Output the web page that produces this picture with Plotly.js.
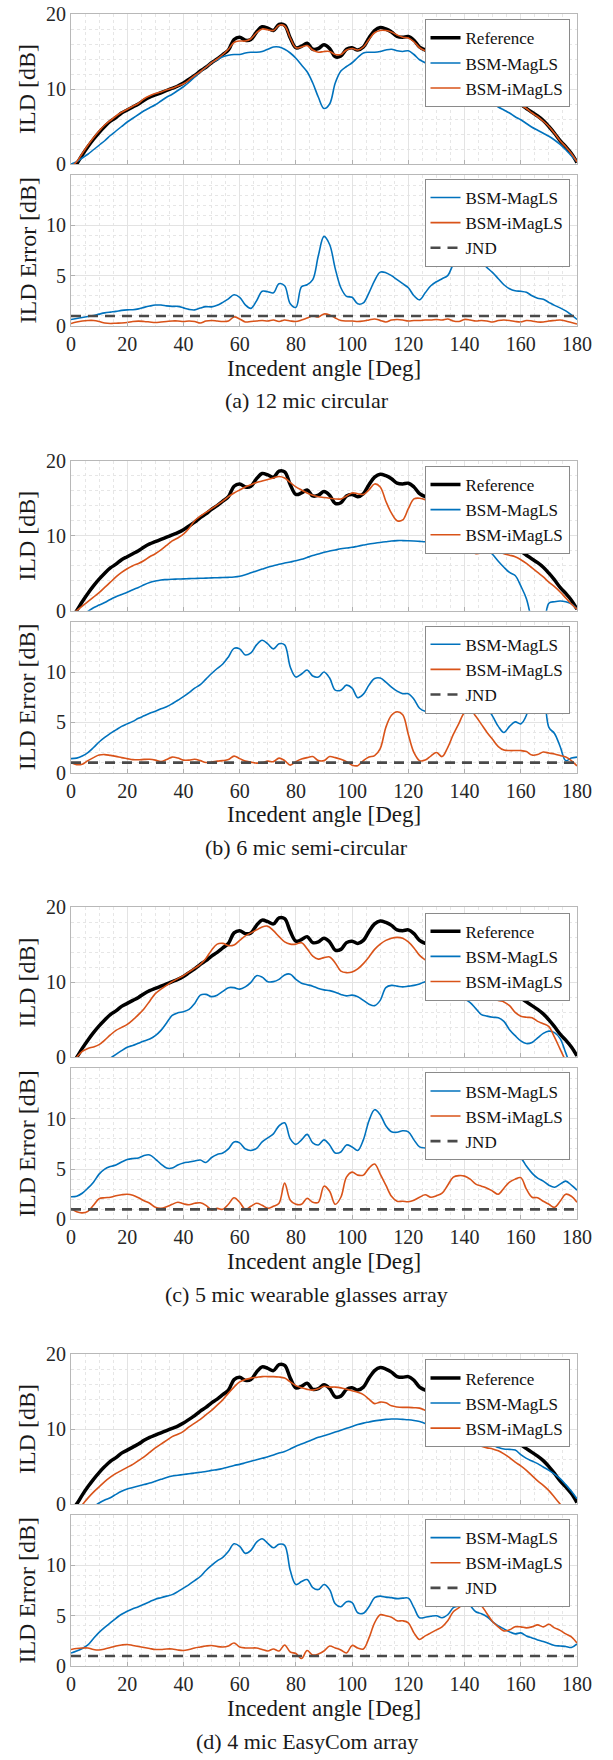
<!DOCTYPE html>
<html>
<head>
<meta charset="utf-8">
<script src="https://cdn.plot.ly/plotly-3.0.1.min.js"></script>
<style>
html,body{margin:0;padding:0;background:#fff;}
#chart{width:613px;height:1760px;}
</style>
</head>
<body>
<div id="chart"></div>
<script>
// ---------------- DATA ----------------
const angles = [0,2,4,6,8,10,12,14,16,18,20,22,24,26,28,30,32,34,36,38,40,42,44,46,48,50,52,54,56,58,
60,62,64,66,68,70,72,74,76,78,80,82,84,86,88,90,92,94,96,98,100,102,104,106,108,110,112,114,116,118,
120,122,124,126,128,130,132,134,136,138,140,142,144,146,148,150,152,154,156,158,160,162,164,166,168,170,172,174,176,178,180];
const jndX = [0, 180];
const jndY = [1, 1];

const refILD = [
-0.9,0.0,1.2,2.3,3.3,4.2,5.0,5.7,6.2,6.8,
7.2,7.6,8.0,8.5,8.9,9.2,9.5,9.8,10.1,10.4,
10.8,11.3,11.8,12.4,12.9,13.5,14.0,14.6,15.2,16.6,
16.9,16.5,16.6,17.6,18.3,18.1,17.8,18.6,18.5,16.8,
15.5,15.7,16.1,15.3,15.4,15.9,15.4,14.3,14.4,15.3,
15.5,15.2,15.6,16.8,17.8,18.2,18.0,17.6,17.0,16.9,
17.0,16.5,15.6,15.2,15.0,14.8,14.6,14.3,14.0,13.6,
13.1,12.6,12.0,11.3,10.6,10.0,9.4,8.9,8.4,8.15,
7.9,7.4,6.9,6.4,5.8,5.0,4.1,3.1,2.3,1.4,
0.2];

// (a) 12 mic circular
const magA = [
0.0,0.3,0.8,1.3,1.9,2.5,3.1,3.8,4.4,5.0,
5.6,6.1,6.6,7.1,7.5,7.9,8.4,8.9,9.3,9.8,
10.3,10.9,11.6,12.3,12.9,13.5,13.9,14.3,14.5,14.6,
14.6,14.8,14.9,14.9,15.0,15.3,15.6,15.6,15.3,14.8,
14.1,13.2,12.3,10.8,8.9,7.4,8.0,10.8,12.4,13.0,
13.5,14.2,14.8,14.9,14.9,15.0,15.2,15.3,15.1,15.0,
15.1,14.6,13.9,13.5,13.0,12.5,12.0,11.5,11.0,10.5,
10.0,9.6,9.2,8.8,8.5,8.1,7.6,7.2,6.8,6.3,
5.9,5.4,4.9,4.5,4.1,3.7,3.2,2.6,1.9,1.1,
0.3];
const imagA = [
-0.4,0.3,1.4,2.5,3.5,4.4,5.2,5.8,6.4,6.9,
7.3,7.7,8.1,8.7,9.1,9.4,9.6,9.9,10.1,10.4,
10.7,11.2,11.8,12.3,12.9,13.5,14.0,14.6,15.3,16.2,
16.4,16.4,16.7,17.5,18.0,17.9,17.8,18.5,18.4,16.8,
15.5,15.6,15.8,15.2,14.9,15.0,15.0,14.6,14.6,15.2,
15.4,15.2,15.6,16.6,17.5,17.8,17.8,17.6,17.2,16.9,
16.8,16.3,15.5,15.1,14.9,14.7,14.5,14.2,13.9,13.5,
13.0,12.5,11.9,11.2,10.5,9.9,9.3,8.8,8.4,8.1,
7.8,7.4,6.8,6.3,5.7,5.0,4.1,3.1,2.3,1.4,
0.3];
const errMagA = [
0.65,0.75,0.85,0.95,1.05,1.18,1.3,1.38,1.45,1.55,
1.6,1.62,1.7,1.85,1.98,2.08,2.08,2.0,1.95,1.95,
1.8,1.65,1.6,1.78,1.92,1.9,2.05,2.35,2.7,3.1,
2.85,2.1,1.75,2.5,3.45,3.4,3.3,4.2,4.0,2.2,
1.85,3.9,4.1,4.6,7.0,8.9,8.1,5.7,3.8,2.95,
2.85,2.2,2.3,3.3,4.5,5.35,5.3,5.0,4.6,4.2,
3.8,3.0,2.6,3.3,4.0,4.4,4.7,5.0,6.1,6.6,
7.0,7.1,6.7,6.3,5.8,5.3,4.7,4.1,3.7,3.5,
3.45,3.35,3.0,2.75,2.65,2.35,2.05,1.8,1.5,1.1,
0.65];
const errImagA = [
0.25,0.4,0.5,0.55,0.55,0.45,0.3,0.25,0.28,0.3,
0.35,0.45,0.48,0.45,0.4,0.35,0.4,0.45,0.5,0.5,
0.45,0.5,0.45,0.3,0.5,0.55,0.5,0.45,0.5,0.9,
0.7,0.4,0.45,0.5,0.55,0.5,0.6,0.45,0.6,0.5,
0.45,0.6,0.8,1.0,0.9,1.2,1.1,0.8,0.55,0.5,
0.5,0.45,0.5,0.6,0.7,0.55,0.4,0.6,0.65,0.6,
0.5,0.55,0.55,0.6,0.6,0.65,0.6,0.7,0.5,0.45,
0.65,0.6,0.5,0.55,0.5,0.4,0.55,0.6,0.55,0.45,
0.4,0.55,0.5,0.4,0.4,0.5,0.55,0.6,0.5,0.35,
0.2];

// (b) 6 mic semi-circular
const magB = [
-1.6,-1.1,-0.6,-0.1,0.4,0.75,1.1,1.5,1.85,2.15,
2.45,2.8,3.1,3.45,3.75,3.95,4.1,4.15,4.2,4.22,
4.25,4.28,4.3,4.32,4.35,4.38,4.4,4.42,4.45,4.5,
4.6,4.8,5.05,5.3,5.55,5.8,6.0,6.2,6.35,6.5,
6.65,6.85,7.1,7.35,7.55,7.8,7.95,8.1,8.25,8.35,
8.45,8.6,8.75,8.9,9.0,9.1,9.2,9.3,9.35,9.35,
9.33,9.3,9.25,9.2,9.1,8.9,8.7,8.5,8.3,8.0,
7.9,8.4,8.85,8.7,8.2,7.5,6.6,5.8,5.1,4.7,
3.3,1.6,-1.5,-4.0,-2.5,1.0,1.2,1.3,1.2,0.9,
0.2];
const imagB = [
-0.6,0.0,0.6,1.2,1.8,2.4,3.1,3.8,4.5,5.1,
5.6,6.0,6.3,6.7,7.2,7.6,8.1,8.7,9.3,9.7,
10.2,11.0,12.0,12.6,13.1,13.6,14.1,14.6,15.2,15.7,
16.1,16.5,16.8,17.1,17.3,17.5,17.7,17.9,17.7,17.1,
16.5,16.1,15.7,15.4,15.2,15.1,15.0,14.9,14.9,15.3,
15.7,15.6,15.5,16.1,16.9,16.5,14.6,13.0,12.0,12.1,
13.6,14.9,15.0,14.8,14.3,13.5,13.2,12.6,11.5,10.3,
9.0,8.0,7.6,7.7,8.0,8.1,7.9,7.6,7.4,7.2,
6.8,6.3,5.7,5.1,4.5,3.8,3.2,2.5,1.7,0.9,
0.2];
const errMagB = [
1.4,1.45,1.65,2.0,2.5,3.05,3.5,3.9,4.25,4.6,
4.85,5.1,5.4,5.65,5.9,6.1,6.35,6.55,6.85,7.2,
7.55,7.95,8.4,8.75,9.3,9.85,10.35,10.8,11.5,12.35,
12.3,11.7,11.9,12.7,13.15,12.8,12.3,12.8,12.7,10.5,
9.5,9.8,10.2,9.6,9.5,10.0,9.4,8.2,8.2,8.7,
8.4,7.45,7.8,8.7,9.35,9.4,9.0,8.5,8.1,7.85,
7.85,7.3,6.4,6.1,6.1,6.2,6.45,6.8,7.4,8.0,
7.6,6.7,6.45,6.6,6.4,5.6,4.6,4.0,4.6,5.05,
4.85,5.7,8.5,11.5,9.5,4.5,3.9,2.6,1.2,1.45,
1.55];
const errImagB = [
1.0,0.8,0.85,1.2,1.5,1.75,1.8,1.72,1.62,1.5,
1.4,1.3,1.28,1.32,1.33,1.25,1.1,1.3,1.55,1.45,
1.25,1.25,1.33,1.2,1.02,1.05,1.15,1.2,1.3,1.65,
1.4,1.15,1.05,0.95,1.0,1.15,1.1,1.45,1.2,0.75,
1.1,1.35,1.5,1.6,1.2,1.2,1.6,1.5,1.33,1.1,
0.75,0.7,1.2,1.55,1.7,2.4,4.5,5.7,6.05,5.75,
3.8,2.0,1.2,1.25,1.65,2.0,1.6,2.5,3.8,4.9,
6.0,6.25,5.6,4.8,4.0,3.3,2.6,2.25,2.2,2.2,
2.2,2.1,1.75,1.8,2.05,1.95,1.85,1.7,1.55,1.2,
0.67];

// (c) 5 mic wearable glasses array
const magC = [
-4.0,-3.4,-2.8,-2.2,-1.6,-1.1,-0.6,-0.1,0.4,0.9,
1.35,1.6,1.9,2.2,2.45,2.9,3.6,4.6,5.6,5.95,
6.1,6.4,7.2,8.3,8.4,8.1,8.3,8.8,9.3,9.3,
9.1,9.4,10.0,10.9,10.7,10.1,10.1,10.4,11.0,11.1,
10.4,9.9,9.7,9.5,9.2,9.0,8.9,8.7,8.4,8.2,
8.3,8.1,7.6,7.1,6.9,7.6,9.3,9.6,9.5,9.4,
9.5,9.6,9.8,10.1,10.2,9.9,9.4,8.9,8.6,8.2,
7.8,7.3,6.5,5.7,5.5,5.35,5.3,4.8,3.7,2.9,
2.2,1.85,2.0,2.6,3.2,3.5,3.3,2.5,0.6,-1.5,
-3.5];
const imagC = [
-0.8,0.0,0.8,1.2,1.4,1.7,2.3,3.0,3.6,4.0,
4.4,5.0,5.7,6.5,7.5,8.5,9.1,9.6,10.1,10.5,
10.9,11.4,11.9,12.4,13.2,14.3,15.1,15.2,14.9,15.0,
15.6,16.2,16.6,17.0,17.4,17.5,16.9,16.1,15.4,15.1,
15.1,15.3,14.5,13.5,13.1,13.3,13.4,12.6,11.5,11.3,
11.4,11.8,12.5,13.4,14.4,15.1,15.6,15.9,16.0,15.9,
15.4,14.6,13.6,13.0,12.6,12.3,12.0,11.6,11.0,10.4,
9.9,9.4,9.0,8.7,8.4,8.0,7.6,7.4,6.9,6.0,
5.5,5.35,5.3,4.8,4.5,4.1,2.7,1.1,-0.5,-2.0,
-3.5];
const errMagC = [
2.25,2.3,2.6,3.1,3.7,4.5,5.0,5.25,5.4,5.7,
5.95,6.05,6.1,6.35,6.4,6.0,5.5,5.1,5.1,5.4,
5.6,5.7,5.8,5.9,5.65,6.15,6.45,6.6,7.0,7.7,
7.6,7.0,6.85,7.05,7.7,8.1,8.5,9.3,9.6,8.0,
7.45,7.9,8.45,7.6,7.4,7.9,7.4,6.6,6.7,7.4,
7.2,6.85,7.9,9.8,10.9,10.4,9.3,8.7,8.65,8.8,
8.7,7.9,7.2,7.1,7.2,7.4,7.7,8.0,8.3,8.5,
8.6,8.4,8.1,7.9,7.8,7.8,7.6,7.3,6.5,6.3,
6.1,5.3,4.6,4.1,3.8,3.4,3.2,3.5,3.8,3.4,
2.9];
const errImagC = [
1.1,0.75,0.65,0.8,1.4,2.05,2.15,2.2,2.35,2.45,
2.5,2.4,2.15,1.85,1.6,1.2,1.1,1.25,1.5,1.7,
1.55,1.45,1.6,1.65,1.4,0.95,1.1,1.0,1.5,2.15,
1.7,1.0,1.3,1.6,1.4,1.1,1.3,1.6,3.6,1.9,
1.5,1.5,2.1,1.7,1.7,3.3,2.8,1.5,2.2,4.2,
4.7,4.4,4.4,5.1,5.5,4.5,3.4,2.3,1.8,1.8,
1.75,1.9,2.2,2.45,2.2,2.35,2.6,3.4,4.2,4.35,
4.3,4.0,3.5,3.3,3.1,2.8,2.5,3.1,3.7,4.0,
4.15,3.0,2.2,2.15,1.8,1.5,1.2,1.8,2.5,2.3,
1.7];

// (d) 4 mic EasyCom array
const magD = [
-3.0,-2.4,-1.8,-1.1,-0.4,0.15,0.55,0.85,1.3,1.7,
2.0,2.2,2.4,2.6,2.8,3.05,3.3,3.55,3.75,3.85,
3.95,4.05,4.15,4.25,4.35,4.5,4.6,4.75,4.95,5.15,
5.3,5.5,5.7,5.9,6.1,6.3,6.55,6.8,7.0,7.35,
7.7,8.0,8.3,8.6,8.9,9.1,9.35,9.6,9.85,10.1,
10.35,10.6,10.8,10.95,11.1,11.2,11.3,11.35,11.35,11.3,
11.25,11.15,11.0,10.75,10.5,10.2,9.8,9.4,9.05,8.75,
8.45,8.25,8.1,8.0,7.9,7.85,7.55,7.35,7.3,7.2,
6.6,6.1,5.75,5.4,4.95,4.5,4.0,3.4,2.6,1.7,
0.7];
const imagD = [
-1.5,-0.8,-0.1,0.8,1.6,2.3,3.0,3.6,4.1,4.5,
4.9,5.3,5.8,6.3,6.9,7.5,8.0,8.5,9.0,9.3,
9.7,10.3,10.8,11.3,11.9,12.5,13.2,13.9,14.8,15.6,
16.3,16.6,16.8,16.9,17.0,17.0,17.0,16.95,16.8,16.3,
15.8,15.5,15.3,15.2,15.4,15.7,15.6,15.6,15.5,15.3,
15.1,14.9,14.6,14.0,13.4,13.6,13.5,13.1,12.95,12.9,
12.9,12.85,12.8,12.5,12.2,11.8,11.4,11.0,10.5,10.0,
9.3,8.5,8.0,7.7,7.5,7.35,7.1,6.7,6.2,5.6,
5.1,4.5,3.8,3.1,2.5,1.8,0.9,0.0,-0.9,-1.8,
-2.7];
const errMagD = [
1.3,1.5,1.75,2.1,2.75,3.35,3.85,4.3,4.75,5.15,
5.45,5.7,5.9,6.15,6.4,6.65,6.8,6.95,7.1,7.4,
7.75,8.1,8.5,8.9,9.5,10.0,10.45,10.8,11.4,12.15,
11.9,11.2,11.5,12.3,12.65,12.2,11.75,12.1,12.0,9.5,
8.1,8.4,8.6,7.8,7.6,8.1,7.6,6.2,5.9,6.4,
6.3,5.3,5.25,5.9,6.8,6.95,6.85,6.8,6.7,6.75,
6.75,5.8,4.8,4.85,4.95,5.0,4.8,5.1,5.8,6.0,
6.4,6.0,5.4,5.2,4.9,4.4,4.0,3.7,3.4,3.2,
3.3,3.0,2.8,2.6,2.45,2.25,2.05,2.0,1.95,1.85,
2.2];
const errImagD = [
1.65,1.75,1.8,1.8,1.65,1.6,1.7,1.85,2.0,2.1,
2.15,2.05,1.95,1.85,1.75,1.65,1.65,1.7,1.7,1.6,
1.55,1.65,1.8,1.9,2.0,2.05,1.95,1.9,2.0,2.3,
1.9,1.8,1.8,1.8,1.65,1.5,1.7,1.5,2.1,1.4,
1.25,0.75,1.55,1.1,1.2,1.5,2.0,1.8,1.6,1.3,
2.05,1.8,1.7,2.8,4.3,5.1,5.0,4.85,4.5,4.5,
4.3,3.3,2.65,3.0,3.3,3.6,3.9,4.5,5.4,5.8,
6.4,6.7,6.4,6.0,5.2,4.4,3.9,3.5,3.6,3.9,
3.9,3.8,3.9,4.1,3.9,4.15,3.8,3.55,3.2,2.9,
2.3];

const captions = ['(a) 12 mic circular', '(b) 6 mic semi-circular',
                  '(c) 5 mic wearable glasses array', '(d) 4 mic EasyCom array'];
const ildSets = [[magA, imagA], [magB, imagB], [magC, imagC], [magD, imagD]];
const errSets = [[errMagA, errImagA], [errMagB, errImagB], [errMagC, errImagC], [errMagD, errImagD]];
const seriesNames = ['Reference', 'BSM-MagLS', 'BSM-iMagLS', 'JND'];
const ildTicks = [0, 10, 20];
const errTicks = [0, 5, 10];
const xTicks = [0, 20, 40, 60, 80, 100, 120, 140, 160, 180];

// ---------------- STYLE / LAYOUT ----------------
const W = 613, H = 1760;
const FONT = '"Liberation Serif", "Times New Roman", serif';
const BLUE = '#0072BD', ORANGE = '#D95319';
const PLOT_L = 71, PLOT_R = 577;
const PANEL_STEP = 446.7;

const traces = [];
const layout = {
  width: W, height: H,
  margin: {l: 0, r: 0, t: 0, b: 0},
  paper_bgcolor: '#fff', plot_bgcolor: '#fff',
  font: {family: FONT, size: 20, color: '#262626'},
  annotations: [],
  showlegend: true
};

function py(px) { return 1 - px / H; }
function sfx(n) { return n === 1 ? '' : String(n); }

function makeX(n, showLabels) {
  return {
    domain: [PLOT_L / W, PLOT_R / W],
    anchor: 'y' + sfx(n),
    range: [0, 180],
    tickvals: xTicks,
    showticklabels: showLabels,
    ticks: 'inside', ticklen: 4, tickcolor: '#b0b0b0',
    tickfont: {family: FONT, size: 20, color: '#262626'},
    showline: true, mirror: true, linecolor: '#b8b8b8', linewidth: 1,
    showgrid: true, gridcolor: '#e3e3e3', gridwidth: 1,
    minor: {dtick: 5, showgrid: true, gridcolor: '#e6e6e6', griddash: 'dot', gridwidth: 1, ticks: ''},
    zeroline: false, fixedrange: true
  };
}
function makeY(n, top, bottom, range, tickvals, minorStep) {
  return {
    domain: [py(bottom), py(top)],
    anchor: 'x' + sfx(n),
    range: range,
    tickvals: tickvals,
    ticks: 'inside', ticklen: 4, tickcolor: '#b0b0b0',
    tickfont: {family: FONT, size: 20, color: '#262626'},
    showline: true, mirror: true, linecolor: '#b8b8b8', linewidth: 1,
    showgrid: true, gridcolor: '#e3e3e3', gridwidth: 1,
    minor: {dtick: minorStep, showgrid: true, gridcolor: '#e6e6e6', griddash: 'dot', gridwidth: 1, ticks: ''},
    zeroline: false, fixedrange: true
  };
}
function makeLegend(topPx) {
  return {
    x: 569.5 / W, y: py(topPx), xanchor: 'right', yanchor: 'top',
    bgcolor: '#fff', bordercolor: '#8a8a8a', borderwidth: 1,
    font: {family: FONT, size: 17, color: '#111'},
    tracegroupgap: 0, itemwidth: 30, traceorder: 'normal'
  };
}
function ann(text, xpx, ypx, size, angle) {
  layout.annotations.push({
    text: text, xref: 'paper', yref: 'paper', x: xpx / W, y: py(ypx),
    xanchor: 'center', yanchor: 'middle', showarrow: false,
    textangle: angle || 0, font: {family: FONT, size: size, color: '#1a1a1a'}
  });
}

for (let k = 0; k < 4; k++) {
  const off = PANEL_STEP * k;
  const nI = 2 * k + 1, nE = 2 * k + 2;
  const ildTop = 14 + off, ildBot = 164 + off;
  const errTop = 175 + off, errBot = 326 + off;

  layout['xaxis' + sfx(nI)] = makeX(nI, false);
  layout['yaxis' + sfx(nI)] = makeY(nI, ildTop, ildBot, [0, 20], ildTicks, 2);
  layout['xaxis' + sfx(nE)] = makeX(nE, true);
  layout['yaxis' + sfx(nE)] = makeY(nE, errTop, errBot, [0, 15], errTicks, 1);
  layout['legend' + sfx(nI)] = makeLegend(19.3 + off);
  layout['legend' + sfx(nE)] = makeLegend(179 + off);

  const lgI = 'legend' + sfx(nI), lgE = 'legend' + sfx(nE);
  const xaI = 'x' + sfx(nI), yaI = 'y' + sfx(nI);
  const xaE = 'x' + sfx(nE), yaE = 'y' + sfx(nE);

  traces.push({x: angles, y: refILD, name: seriesNames[0], type: 'scatter', mode: 'lines',
    line: {color: '#000', width: 3.5, shape: 'spline'}, xaxis: xaI, yaxis: yaI, legend: lgI});
  traces.push({x: angles, y: ildSets[k][0], name: seriesNames[1], type: 'scatter', mode: 'lines',
    line: {color: BLUE, width: 1.6, shape: 'spline'}, xaxis: xaI, yaxis: yaI, legend: lgI});
  traces.push({x: angles, y: ildSets[k][1], name: seriesNames[2], type: 'scatter', mode: 'lines',
    line: {color: ORANGE, width: 1.6, shape: 'spline'}, xaxis: xaI, yaxis: yaI, legend: lgI});

  traces.push({x: angles, y: errSets[k][0], name: seriesNames[1], type: 'scatter', mode: 'lines',
    line: {color: BLUE, width: 1.6, shape: 'spline'}, xaxis: xaE, yaxis: yaE, legend: lgE});
  traces.push({x: angles, y: errSets[k][1], name: seriesNames[2], type: 'scatter', mode: 'lines',
    line: {color: ORANGE, width: 1.6, shape: 'spline'}, xaxis: xaE, yaxis: yaE, legend: lgE});
  traces.push({x: jndX, y: jndY, name: seriesNames[3], type: 'scatter', mode: 'lines',
    line: {color: '#4a4a4a', width: 2.6, dash: '10px,7px'}, xaxis: xaE, yaxis: yaE, legend: lgE});

  ann('ILD [dB]', 27, (ildTop + ildBot) / 2, 24, -90);
  ann('ILD Error [dB]', 27, (errTop + errBot) / 2, 24, -90);
  ann('Incedent angle [Deg]', 324, 368 + off, 23, 0);
  ann(captions[k], 306.5, 401 + off, 22, 0);
}

Plotly.newPlot('chart', traces, layout, {displayModeBar: false, staticPlot: true});
</script>
</body>
</html>
